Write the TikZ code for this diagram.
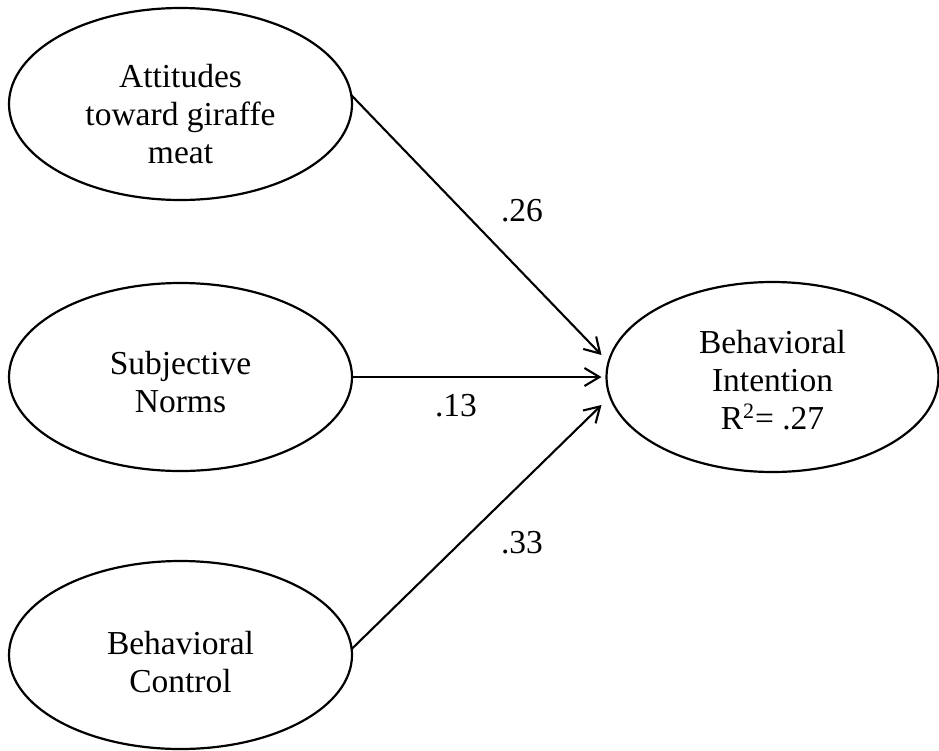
\documentclass[tikz,border=0pt]{standalone}
\usepackage{fontspec}
\setmainfont{Liberation Serif}
\usetikzlibrary{arrows.meta,shapes.geometric}
\newcommand{\sqmark}{\raisebox{0.32em}{\fontsize{22}{22}\selectfont 2}}
\begin{document}
\begin{tikzpicture}[x=1pt,y=-1pt,
  construct/.style={draw, ellipse, line width=2.2pt, inner sep=0pt, outer sep=0pt},
  lbl/.style={align=center, inner sep=0pt, font=\fontsize{33.5}{38}\selectfont},
  coef/.style={inner sep=0pt, font=\fontsize{33.5}{38}\selectfont},
  effect/.style={line width=2.1pt, -{Straight Barb[length=15pt,width=18pt,line width=2.1pt]}}
]
\useasboundingbox (0,0) rectangle (939,750);

% latent constructs
\node[construct, minimum width=343pt, minimum height=192pt] (att) at (180.5,104) {};
\node[construct, minimum width=343pt, minimum height=188pt] (sub) at (180.5,377) {};
\node[construct, minimum width=343pt, minimum height=188pt] (ctl) at (180.5,655) {};
\node[construct, minimum width=332pt, minimum height=190pt] (beh) at (772.5,377) {};

% construct names
\node[lbl] (attT) at (180.5,114) {Attitudes\\toward giraffe\\meat};
\node[lbl] (subT) at (180.5,382) {Subjective\\Norms};
\node[lbl] (ctlT) at (180.5,662) {Behavioral\\Control};
\node[lbl] (behT) at (772.5,380) {Behavioral\\Intention\\R\sqmark\kern1pt= .27};

% arrow tips just left of the outcome
\coordinate (tipA) at ([shift={(-5,-22)}]beh.west);
\coordinate (tipB) at ([shift={(-5,0)}]beh.west);
\coordinate (tipC) at ([shift={(-5,28)}]beh.west);

% paths
\draw[effect] (att.3) -- (tipA);
\draw[effect] (sub.east) -- (tipB);
\draw[effect] (ctl.2) -- (tipC);

% path coefficients
\node[coef] (cA) at (522,211) {.26};
\node[coef] (cB) at (456,406) {.13};
\node[coef] (cC) at (522,543) {.33};
\end{tikzpicture}
\end{document}
